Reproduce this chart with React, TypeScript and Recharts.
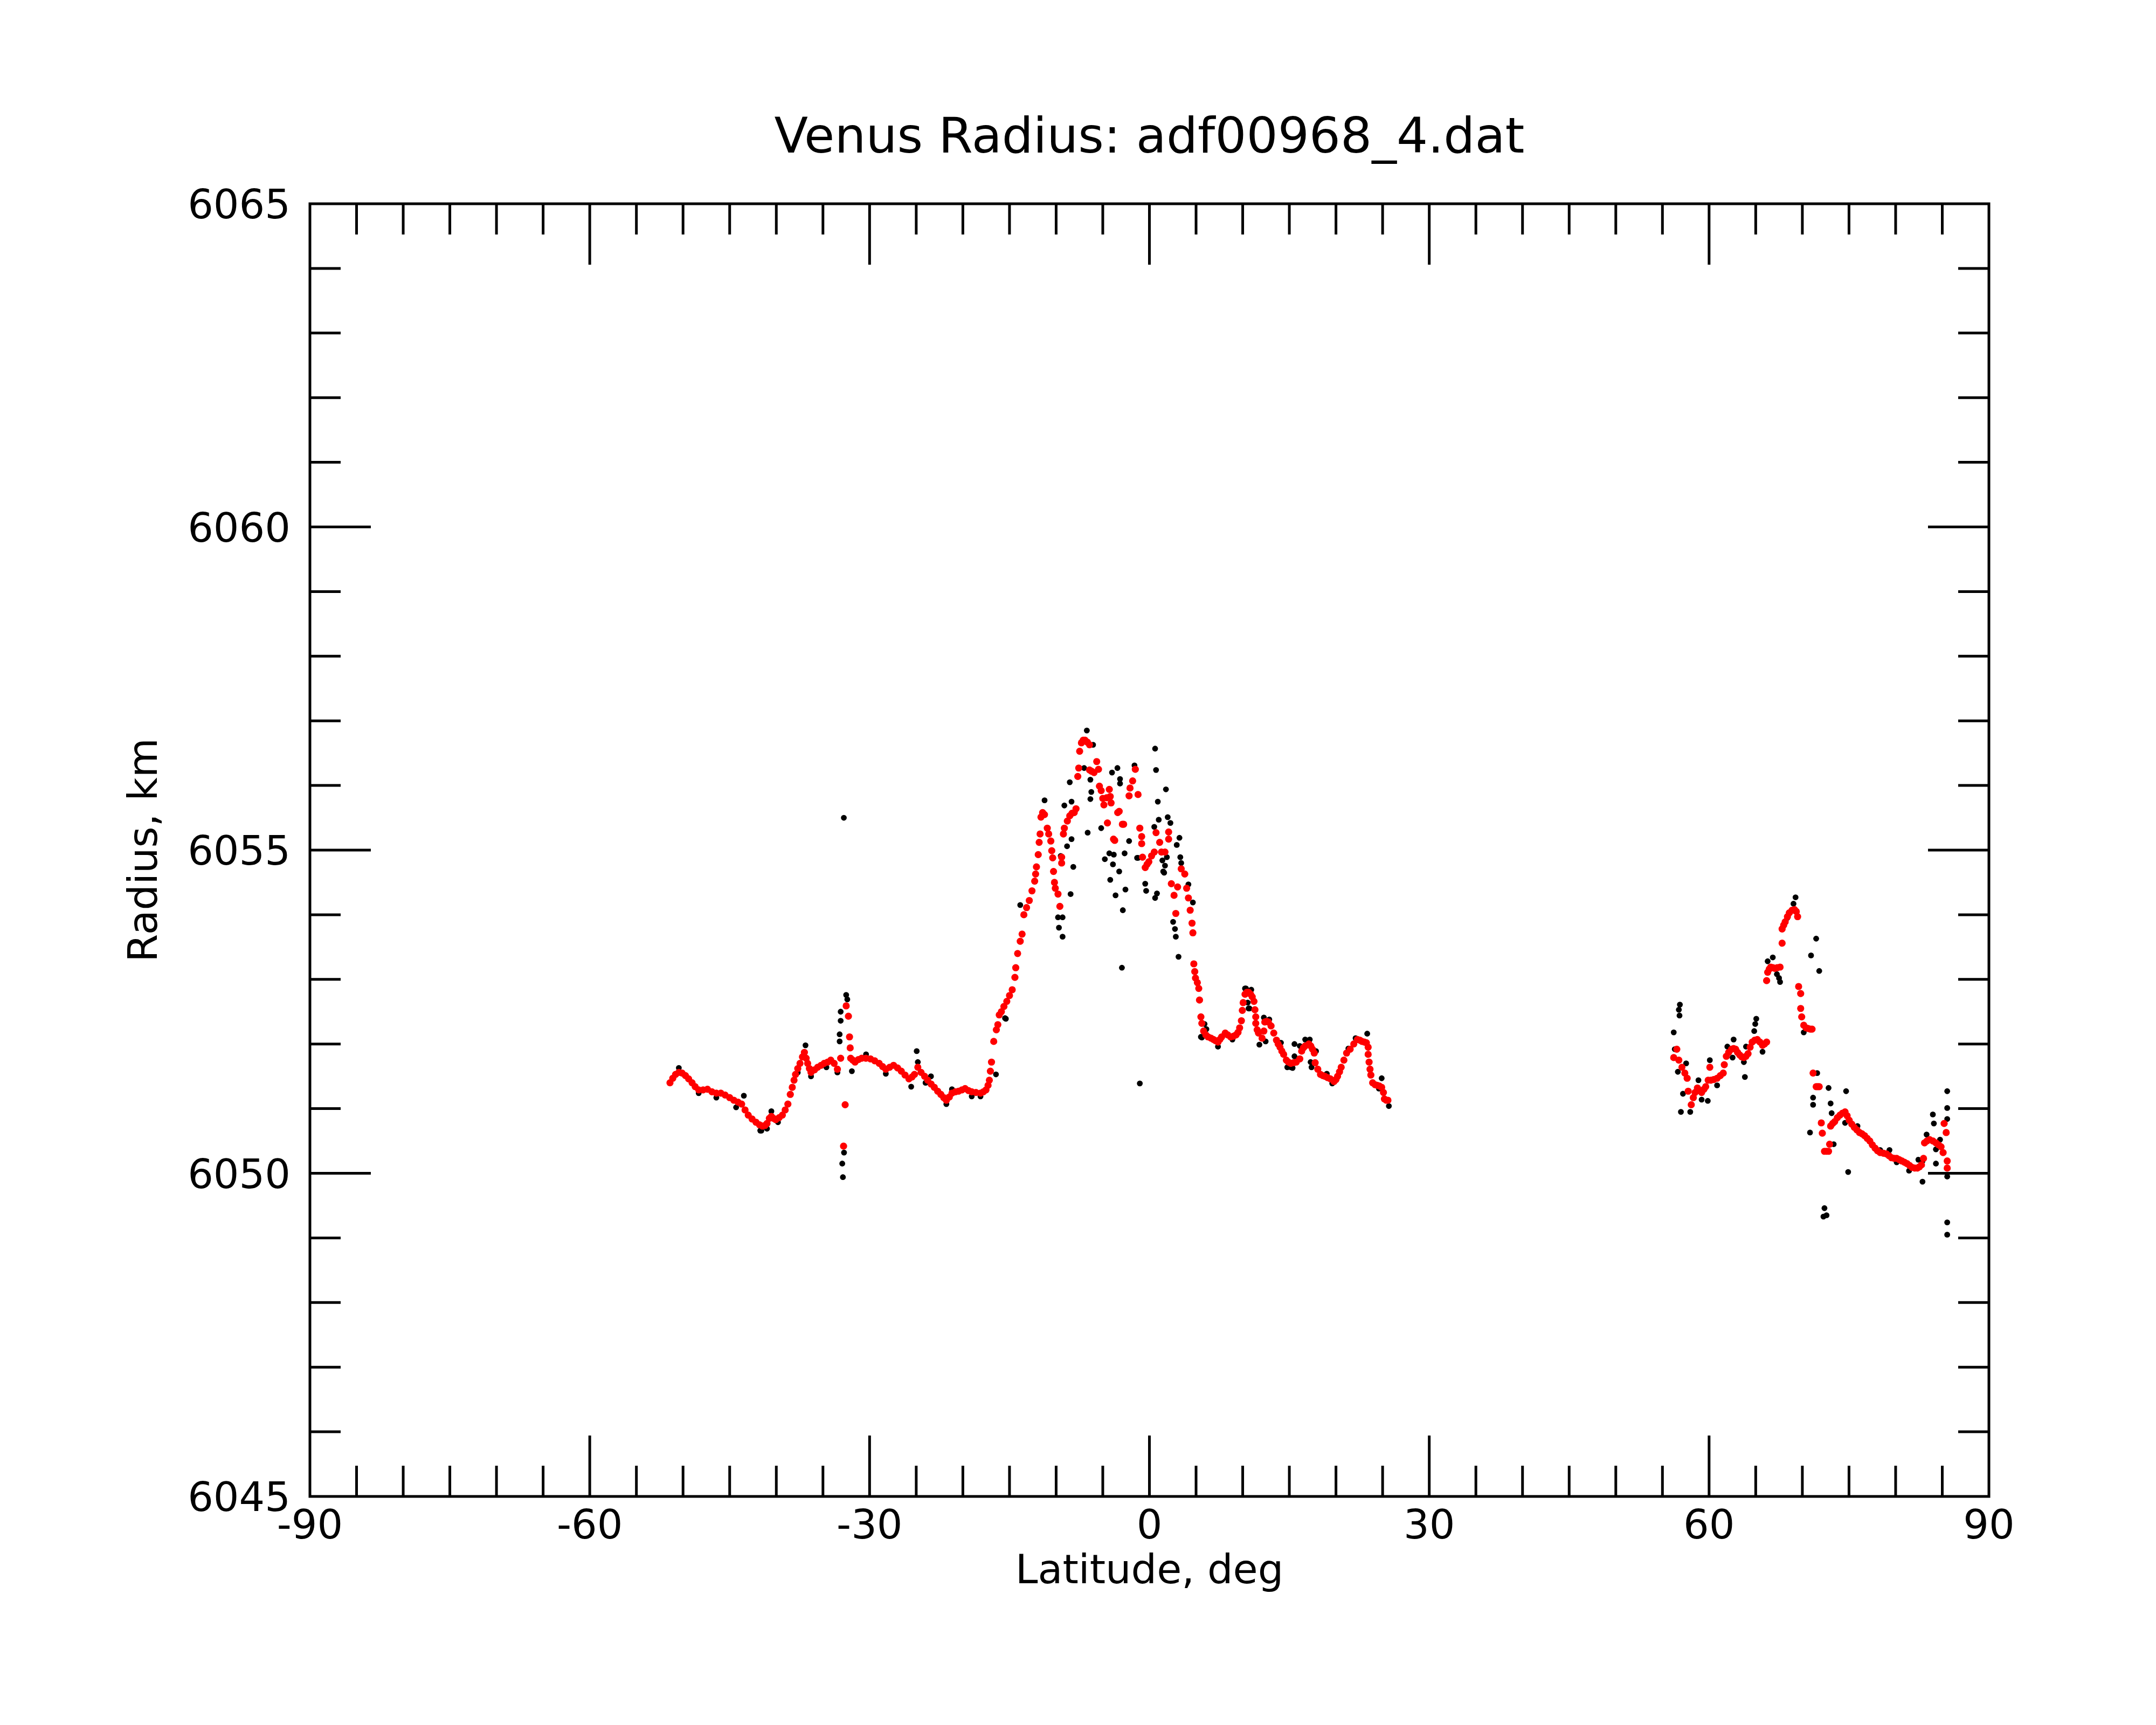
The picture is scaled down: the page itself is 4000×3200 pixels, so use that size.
import { ReferenceArea, Scatter, ScatterChart, XAxis, YAxis } from 'recharts';

type Pt = [number, number];

// latitude (deg) / radius (km)
const smoothedSouth: Pt[] = [
  [-51.4, 6051.4], [-51.1, 6051.47], [-50.8, 6051.53], [-50.45, 6051.56], [-50.1, 6051.55], [-49.74, 6051.51],
  [-49.4, 6051.46], [-49.03, 6051.4], [-48.7, 6051.34], [-48.32, 6051.29], [-47.85, 6051.29], [-47.38, 6051.3],
  [-46.9, 6051.26], [-46.43, 6051.24], [-45.95, 6051.24], [-45.49, 6051.21], [-45.0, 6051.17], [-44.55, 6051.13],
  [-44.1, 6051.1], [-43.72, 6051.07], [-43.35, 6050.98], [-43.01, 6050.9], [-42.6, 6050.84], [-42.18, 6050.79],
  [-41.8, 6050.75], [-41.48, 6050.73], [-41.2, 6050.74], [-41.0, 6050.77], [-40.75, 6050.85], [-40.53, 6050.88],
  [-40.3, 6050.85], [-40.06, 6050.83], [-39.7, 6050.86], [-39.35, 6050.9], [-39.05, 6050.98], [-38.76, 6051.07],
  [-38.5, 6051.22], [-38.29, 6051.33], [-38.1, 6051.44], [-37.94, 6051.53], [-37.7, 6051.62], [-37.46, 6051.7],
  [-37.2, 6051.8], [-36.99, 6051.87], [-36.8, 6051.78], [-36.64, 6051.7], [-36.45, 6051.62], [-36.28, 6051.56],
  [-35.9, 6051.6], [-35.57, 6051.64], [-35.2, 6051.67], [-34.87, 6051.7], [-34.5, 6051.72], [-34.16, 6051.75],
  [-33.8, 6051.7], [-33.45, 6051.61], [-33.1, 6051.78], [-32.79, 6050.42], [-32.62, 6051.06], [-32.51, 6052.59],
  [-32.27, 6052.43], [-32.15, 6052.11], [-32.08, 6051.94], [-32.03, 6051.78], [-31.8, 6051.75], [-31.56, 6051.72],
  [-31.2, 6051.76], [-30.85, 6051.78], [-30.4, 6051.78], [-29.91, 6051.77], [-29.45, 6051.74], [-28.97, 6051.7],
  [-28.6, 6051.65], [-28.26, 6051.61], [-27.85, 6051.64], [-27.43, 6051.67], [-27.0, 6051.63], [-26.6, 6051.58],
  [-26.2, 6051.52], [-25.78, 6051.46], [-25.45, 6051.49], [-25.19, 6051.53], [-24.83, 6051.64], [-24.48, 6051.56],
  [-24.1, 6051.5], [-23.77, 6051.44], [-23.4, 6051.38], [-23.06, 6051.33], [-22.7, 6051.27], [-22.36, 6051.22],
  [-22.05, 6051.17], [-21.77, 6051.13], [-21.45, 6051.18], [-21.17, 6051.24], [-20.8, 6051.26], [-20.47, 6051.27],
  [-20.1, 6051.29], [-19.76, 6051.31], [-19.4, 6051.28], [-19.05, 6051.26], [-18.6, 6051.25], [-18.11, 6051.24],
  [-17.8, 6051.26], [-17.52, 6051.29], [-17.3, 6051.36], [-17.16, 6051.44], [-17.05, 6051.58], [-16.93, 6051.72],
];

const smoothedRidge: Pt[] = [
  [-16.69, 6052.04], [-16.41, 6052.22], [-16.25, 6052.3], [-16.1, 6052.45], [-15.87, 6052.5], [-15.6, 6052.58],
  [-15.29, 6052.66], [-15.0, 6052.75], [-14.71, 6052.84], [-14.42, 6053.03], [-14.33, 6053.18], [-14.13, 6053.4],
  [-13.85, 6053.59], [-13.65, 6053.7], [-13.46, 6054.0], [-13.17, 6054.11], [-12.88, 6054.22], [-12.59, 6054.37],
  [-12.3, 6054.52], [-12.2, 6054.63], [-12.11, 6054.74], [-11.92, 6054.93], [-11.82, 6055.12], [-11.72, 6055.25],
  [-11.63, 6055.51], [-11.45, 6055.58], [-11.25, 6055.55], [-10.95, 6055.34], [-10.8, 6055.25], [-10.57, 6055.14],
  [-10.47, 6054.99], [-10.37, 6054.88], [-10.28, 6054.67], [-10.18, 6054.5], [-10.09, 6054.41], [-9.8, 6054.32],
  [-9.6, 6054.13], [-9.41, 6054.8], [-9.41, 6054.89], [-9.22, 6055.25], [-9.12, 6055.34], [-8.8, 6055.45],
  [-8.54, 6055.53], [-8.3, 6055.57], [-8.06, 6055.58], [-7.87, 6055.64], [-7.68, 6056.14], [-7.58, 6056.27],
  [-7.48, 6056.53], [-7.29, 6056.66], [-7.1, 6056.7], [-6.9, 6056.7], [-6.65, 6056.67], [-6.42, 6056.63],
  [-6.42, 6056.24], [-6.2, 6056.22], [-5.94, 6056.2], [-5.65, 6056.37], [-5.46, 6056.25], [-5.36, 6055.99],
  [-5.17, 6055.92], [-5.0, 6055.8], [-4.88, 6055.7], [-4.59, 6055.81], [-4.3, 6055.94], [-4.2, 6055.83],
  [-4.11, 6055.73], [-4.5, 6055.42], [-3.85, 6055.17], [-3.72, 6055.15], [-3.4, 6055.58], [-3.24, 6055.6],
  [-2.9, 6055.4], [-2.76, 6055.4], [-2.18, 6055.84], [-2.08, 6055.96], [-1.8, 6056.07], [-1.51, 6056.25],
  [-1.22, 6055.86], [-1.03, 6055.34], [-0.83, 6055.21], [-0.83, 6055.1], [-0.74, 6054.89], [-0.45, 6054.73],
  [-0.25, 6054.78], [-0.06, 6054.82], [0.23, 6054.91], [0.52, 6054.97], [0.71, 6055.27], [1.1, 6055.12],
  [1.29, 6054.97], [1.67, 6054.97], [2.06, 6055.17], [2.06, 6055.28], [2.35, 6054.48], [2.64, 6054.3],
  [2.83, 6054.02], [3.02, 6054.43], [3.41, 6054.71], [3.79, 6054.63], [3.99, 6054.41], [4.18, 6054.26],
  [4.37, 6054.07], [4.57, 6053.87], [4.66, 6053.72], [4.76, 6053.24], [4.86, 6053.12], [4.94, 6053.02],
  [5.14, 6052.95], [5.29, 6052.86], [5.37, 6052.68], [5.52, 6052.42], [5.62, 6052.32], [5.81, 6052.2],
  [6.05, 6052.14], [6.29, 6052.11], [6.6, 6052.09], [6.87, 6052.07], [7.1, 6052.05], [7.35, 6052.03],
  [7.55, 6052.07], [7.74, 6052.11], [8.13, 6052.17], [8.4, 6052.14], [8.7, 6052.11], [9.0, 6052.12],
  [9.28, 6052.14], [9.5, 6052.18], [9.67, 6052.25], [9.86, 6052.36], [9.96, 6052.52], [10.05, 6052.64],
  [10.25, 6052.77], [10.45, 6052.8], [10.63, 6052.8], [10.85, 6052.77], [11.02, 6052.73], [11.21, 6052.66],
  [11.31, 6052.53], [11.4, 6052.42], [11.4, 6052.32], [11.55, 6052.22], [11.69, 6052.17], [12.08, 6052.09],
  [12.27, 6052.2], [12.37, 6052.34], [12.55, 6052.35], [12.75, 6052.34], [13.04, 6052.28], [13.33, 6052.17],
  [13.62, 6052.06], [13.8, 6052.0], [14.0, 6051.95], [14.2, 6051.89], [14.39, 6051.84], [14.68, 6051.75],
  [14.9, 6051.72], [15.16, 6051.7], [15.45, 6051.71], [15.74, 6051.72], [16.12, 6051.77], [16.32, 6051.89],
  [16.5, 6051.94], [16.7, 6051.97], [17.09, 6052.0], [17.3, 6051.97], [17.48, 6051.92], [17.67, 6051.86],
  [17.77, 6051.71], [18.05, 6051.61], [18.34, 6051.53], [18.6, 6051.51], [18.82, 6051.5], [19.1, 6051.48],
  [19.4, 6051.46], [19.79, 6051.42], [20.0, 6051.45], [20.17, 6051.5], [20.38, 6051.57], [20.56, 6051.64],
  [20.85, 6051.75], [21.14, 6051.86], [21.52, 6051.92], [21.91, 6052.0], [22.3, 6052.07], [22.55, 6052.06],
  [22.78, 6052.04], [23.05, 6052.03], [23.26, 6052.02], [23.45, 6051.95], [23.45, 6051.84], [23.55, 6051.72],
  [23.65, 6051.61], [23.74, 6051.52], [23.93, 6051.4], [24.2, 6051.37], [24.42, 6051.36], [24.65, 6051.35],
  [24.9, 6051.33], [25.09, 6051.25], [25.19, 6051.15], [25.4, 6051.13], [25.57, 6051.13],
];

const smoothedNorth: Pt[] = [
  [56.21, 6051.79], [56.54, 6051.92], [56.76, 6051.75], [57.09, 6051.64], [57.4, 6051.55], [57.65, 6051.47],
  [57.76, 6051.27], [58.09, 6051.06], [58.31, 6051.17], [58.5, 6051.25], [58.75, 6051.32], [59.0, 6051.28],
  [59.2, 6051.25], [59.45, 6051.3], [59.64, 6051.34], [59.9, 6051.44], [60.08, 6051.64], [60.19, 6051.44],
  [60.5, 6051.45], [60.86, 6051.47], [61.2, 6051.51], [61.52, 6051.55], [61.63, 6051.68], [61.85, 6051.81],
  [62.1, 6051.87], [62.41, 6051.92], [62.63, 6051.93], [62.85, 6051.92], [63.05, 6051.87], [63.29, 6051.83],
  [63.5, 6051.8], [63.73, 6051.79], [63.95, 6051.81], [64.18, 6051.85], [64.4, 6051.95], [64.62, 6052.03],
  [64.9, 6052.06], [65.17, 6052.07], [65.45, 6052.03], [65.73, 6051.98], [65.95, 6052.0], [66.17, 6052.03],
  [66.17, 6052.98], [66.28, 6053.11], [66.45, 6053.16], [66.61, 6053.19], [66.85, 6053.18], [67.05, 6053.17],
  [67.3, 6053.18], [67.61, 6053.19], [67.83, 6053.56], [67.83, 6053.78], [68.0, 6053.84], [68.16, 6053.89],
  [68.4, 6053.97], [68.6, 6054.03], [68.9, 6054.07], [69.16, 6054.08], [69.35, 6054.05], [69.49, 6053.97],
  [69.6, 6052.89], [69.82, 6052.78], [69.82, 6052.55], [69.93, 6052.42], [70.15, 6052.29], [70.4, 6052.25],
  [70.6, 6052.24], [70.85, 6052.23], [71.04, 6052.23], [71.15, 6051.55], [71.48, 6051.34], [71.65, 6051.34],
  [71.81, 6051.34], [72.03, 6050.78], [72.14, 6050.62], [72.37, 6050.34], [72.6, 6050.34], [72.81, 6050.34],
  [72.92, 6050.45], [73.03, 6050.73], [73.25, 6050.77], [73.47, 6050.8], [73.75, 6050.86], [74.03, 6050.9],
  [74.3, 6050.93], [74.58, 6050.95], [74.8, 6050.89], [75.02, 6050.82], [75.3, 6050.76], [75.57, 6050.71],
  [75.85, 6050.67], [76.13, 6050.63], [76.4, 6050.61], [76.68, 6050.58], [76.95, 6050.54], [77.23, 6050.5],
  [77.5, 6050.44], [77.79, 6050.39], [78.05, 6050.35], [78.34, 6050.32], [78.7, 6050.31], [79.01, 6050.3],
  [79.3, 6050.27], [79.56, 6050.24], [79.85, 6050.23], [80.11, 6050.23], [80.4, 6050.21], [80.67, 6050.19],
  [80.95, 6050.17], [81.22, 6050.15], [81.5, 6050.12], [81.77, 6050.09], [82.05, 6050.08], [82.33, 6050.08],
  [82.55, 6050.1], [82.77, 6050.13], [82.99, 6050.23], [83.1, 6050.47], [83.35, 6050.5], [83.65, 6050.52],
  [84.0, 6050.5], [84.32, 6050.47], [84.6, 6050.44], [84.87, 6050.41], [85.09, 6050.32], [85.2, 6050.77],
  [85.42, 6050.63], [85.53, 6050.19], [85.53, 6050.08],
];

const rawSouth: Pt[] = [
  [-50.45, 6051.63], [-48.32, 6051.24], [-46.43, 6051.17], [-44.31, 6051.02], [-43.48, 6051.2], [-41.72, 6050.66],
  [-41.6, 6050.66], [-41.0, 6050.69], [-40.53, 6050.96], [-39.82, 6050.79], [-37.7, 6051.56], [-36.87, 6051.98],
  [-36.28, 6051.5], [-34.63, 6051.64], [-33.45, 6051.56], [-33.1, 6052.5], [-33.1, 6052.36], [-33.21, 6052.15],
  [-33.21, 6052.04], [-32.76, 6055.5], [-32.51, 6052.76], [-32.39, 6052.69], [-32.74, 6050.32], [-32.93, 6050.15],
  [-32.86, 6049.94], [-31.9, 6051.58], [-30.38, 6051.84], [-28.26, 6051.54], [-25.54, 6051.34], [-24.95, 6051.89],
  [-24.83, 6051.72], [-24.0, 6051.4], [-23.42, 6051.5], [-21.77, 6051.07], [-21.17, 6051.3], [-19.05, 6051.19],
  [-18.11, 6051.19], [-16.45, 6051.53], [-15.39, 6052.39],
];

const rawRidge: Pt[] = [
  [-15.48, 6052.4], [-13.85, 6054.15], [-11.24, 6055.77], [-9.8, 6053.96], [-9.31, 6053.96], [-9.7, 6053.8],
  [-9.31, 6053.66], [-9.51, 6054.91], [-9.12, 6055.69], [-8.83, 6055.06], [-8.54, 6056.05], [-8.45, 6054.32],
  [-8.35, 6055.75], [-8.35, 6055.17], [-8.16, 6054.74], [-7.0, 6056.27], [-6.71, 6056.85], [-6.62, 6055.27],
  [-6.33, 6056.09], [-6.33, 6055.79], [-6.23, 6055.9], [-6.04, 6056.63], [-5.17, 6055.34], [-4.78, 6054.86],
  [-4.3, 6054.95], [-4.2, 6054.54], [-4.01, 6056.2], [-3.91, 6054.78], [-3.82, 6054.93], [-3.63, 6054.3],
  [-3.43, 6056.27], [-3.24, 6054.67], [-3.15, 6056.1], [-3.15, 6056.03], [-2.95, 6053.18], [-2.85, 6054.07],
  [-2.66, 6054.95], [-2.57, 6054.39], [-2.18, 6055.14], [-1.6, 6056.31], [-1.32, 6054.88], [-1.22, 6054.88],
  [-1.03, 6051.39], [-0.45, 6054.48], [-0.35, 6054.37], [0.52, 6055.36], [0.61, 6056.57], [0.61, 6054.26],
  [0.71, 6056.24], [0.81, 6054.33], [0.9, 6055.75], [1.0, 6055.47], [1.39, 6054.84], [1.48, 6054.67],
  [1.58, 6054.65], [1.67, 6054.76], [1.77, 6055.94], [1.87, 6054.89], [1.96, 6055.51], [2.25, 6055.42],
  [2.54, 6053.89], [2.74, 6053.78], [2.83, 6053.66], [2.93, 6055.08], [3.12, 6053.35], [3.22, 6055.19],
  [3.31, 6054.89], [3.41, 6054.8], [4.18, 6054.47], [4.66, 6054.19], [5.52, 6052.11], [5.62, 6052.1],
  [5.91, 6052.31], [6.11, 6052.23], [7.35, 6051.96], [8.9, 6052.07], [10.25, 6052.86], [10.35, 6052.86],
  [10.54, 6052.64], [10.63, 6052.55], [10.73, 6052.55], [10.92, 6052.84], [11.79, 6051.99], [12.27, 6052.41],
  [12.46, 6052.04], [12.85, 6052.38], [14.1, 6052.02], [14.78, 6051.64], [15.16, 6051.64], [15.35, 6051.63],
  [15.55, 6051.81], [15.55, 6052.0], [16.12, 6051.97], [16.7, 6052.07], [17.19, 6052.07], [17.28, 6051.72],
  [17.38, 6051.64], [17.86, 6051.89], [19.02, 6051.54], [19.6, 6051.39], [21.33, 6051.93], [22.1, 6052.09],
  [23.35, 6052.16], [24.61, 6051.31], [24.9, 6051.47], [25.67, 6051.04],
];

const rawNorth: Pt[] = [
  [56.87, 6052.61], [56.76, 6052.53], [56.83, 6052.44], [56.21, 6052.18], [56.32, 6051.92], [56.65, 6051.57],
  [56.98, 6050.95], [57.2, 6051.23], [57.54, 6051.7], [57.98, 6050.95], [58.86, 6051.44], [59.2, 6051.14],
  [59.86, 6051.12], [60.08, 6051.75], [60.86, 6051.36], [61.96, 6051.96], [62.63, 6052.07], [62.52, 6051.79],
  [63.73, 6051.72], [63.84, 6051.49], [63.96, 6051.96], [64.84, 6052.2], [64.95, 6052.31], [65.06, 6052.39],
  [65.73, 6051.88], [66.28, 6053.28], [66.83, 6053.34], [67.27, 6053.08], [67.61, 6052.96], [67.5, 6053.02],
  [68.38, 6053.95], [69.05, 6054.17], [69.27, 6054.27], [70.93, 6053.37], [71.48, 6053.63], [71.81, 6053.13],
  [70.15, 6052.18], [71.59, 6051.55], [71.15, 6051.17], [71.15, 6051.06], [70.82, 6050.63], [72.37, 6049.46],
  [72.59, 6049.35], [72.26, 6049.33], [72.81, 6051.32], [73.03, 6051.08], [73.14, 6050.93], [73.36, 6050.45],
  [74.69, 6051.27], [74.91, 6050.02], [74.58, 6050.78], [75.91, 6050.73], [78.34, 6050.36], [79.34, 6050.36],
  [80.11, 6050.17], [81.44, 6050.04], [82.44, 6050.21], [82.88, 6049.87], [82.88, 6050.19], [83.32, 6050.6],
  [83.99, 6050.91], [84.1, 6050.77], [84.32, 6050.15], [84.32, 6050.37], [84.76, 6050.52], [85.53, 6051.27],
  [85.53, 6051.01], [85.53, 6050.84], [85.53, 6049.95], [85.53, 6049.24], [85.53, 6049.05],
];

const latTicks = [-90, -85, -80, -75, -70, -65, -60, -55, -50, -45, -40, -35, -30, -25, -20, -15, -10, -5, 0,
  5, 10, 15, 20, 25, 30, 35, 40, 45, 50, 55, 60, 65, 70, 75, 80, 85, 90];
const radiusTicks = [6045, 6046, 6047, 6048, 6049, 6050, 6051, 6052, 6053, 6054, 6055,
  6056, 6057, 6058, 6059, 6060, 6061, 6062, 6063, 6064, 6065];

const toRows = (pts: Pt[]) => pts.map(([lat, r]) => ({ lat, r }));
const rawData = toRows([...rawSouth, ...rawRidge, ...rawNorth]);
const smoothData = toRows([...smoothedSouth, ...smoothedRidge, ...smoothedNorth]);

const W = 4000;
const H = 3200;
const PLOT = { left: 575, right: 3690, top: 378, bottom: 2776 };
const FONT = '"DejaVu Sans", Verdana, sans-serif';
const INK = '#000';
const MINOR = 57;
const MAJOR = 113;
const LABEL_SIZE = 75;

function LatTick(props: any) {
  const { x, payload } = props;
  const v = payload.value as number;
  const major = v % 30 === 0;
  const len = major ? MAJOR : MINOR;
  const edge = v === -90 || v === 90;
  return (
    <g>
      {!edge && <line x1={x} x2={x} y1={PLOT.bottom} y2={PLOT.bottom - len} stroke={INK} strokeWidth={5} />}
      {!edge && <line x1={x} x2={x} y1={PLOT.top} y2={PLOT.top + len} stroke={INK} strokeWidth={5} />}
      {major && (
        <text x={x} y={PLOT.bottom + 78} textAnchor="middle" fontFamily={FONT} fontSize={LABEL_SIZE} fill={INK}>
          {v}
        </text>
      )}
    </g>
  );
}

function RadiusTick(props: any) {
  const { y, payload } = props;
  const v = payload.value as number;
  const major = v % 5 === 0;
  const len = major ? MAJOR : MINOR;
  const edge = v === 6045 || v === 6065;
  return (
    <g>
      {!edge && <line x1={PLOT.left} x2={PLOT.left + len} y1={y} y2={y} stroke={INK} strokeWidth={5} />}
      {!edge && <line x1={PLOT.right} x2={PLOT.right - len} y1={y} y2={y} stroke={INK} strokeWidth={5} />}
      {major && (
        <text x={PLOT.left - 36} y={y + 27} textAnchor="end" fontFamily={FONT} fontSize={LABEL_SIZE} fill={INK}>
          {v}
        </text>
      )}
    </g>
  );
}

const redDot = (p: any) => <circle cx={p.cx} cy={p.cy} r={6.6} fill="#ff0000" />;
const blackDot = (p: any) => <circle cx={p.cx} cy={p.cy} r={5.4} fill="#000000" />;

export default function App() {
  const cx = (PLOT.left + PLOT.right) / 2;
  const cy = (PLOT.top + PLOT.bottom) / 2;
  return (
    <div style={{ position: 'absolute', left: 0, top: 0, width: W, height: H, background: '#fff' }}>
      <ScatterChart
        width={W}
        height={H}
        margin={{ top: PLOT.top, right: W - PLOT.right, bottom: H - PLOT.bottom - 200, left: PLOT.left - 300 }}
      >
        <XAxis
          type="number"
          dataKey="lat"
          domain={[-90, 90]}
          ticks={latTicks}
          interval={0}
          tick={<LatTick />}
          tickLine={false}
          axisLine={false}
          tickSize={0}
          height={200}
        />
        <YAxis
          type="number"
          dataKey="r"
          domain={[6045, 6065]}
          ticks={radiusTicks}
          interval={0}
          tick={<RadiusTick />}
          tickLine={false}
          axisLine={false}
          tickSize={0}
          width={300}
        />
        <ReferenceArea x1={-90} x2={90} y1={6045} y2={6065} fill="none" fillOpacity={0} stroke={INK} strokeWidth={5} strokeOpacity={1} />
        <Scatter data={rawData} shape={blackDot} isAnimationActive={false} />
        <Scatter data={smoothData} shape={redDot} isAnimationActive={false} />
      </ScatterChart>
      <svg width={W} height={H} style={{ position: 'absolute', left: 0, top: 0, pointerEvents: 'none' }}>
        <text x={cx} y={283} textAnchor="middle" fontFamily={FONT} fontSize={91.5} fill={INK}>
          Venus Radius: adf00968_4.dat
        </text>
        <text x={cx} y={2937} textAnchor="middle" fontFamily={FONT} fontSize={LABEL_SIZE} fill={INK}>
          Latitude, deg
        </text>
        <text x={291} y={cy} textAnchor="middle" fontFamily={FONT} fontSize={LABEL_SIZE} fill={INK} transform={`rotate(-90 291 ${cy})`}>
          Radius, km
        </text>
      </svg>
    </div>
  );
}
